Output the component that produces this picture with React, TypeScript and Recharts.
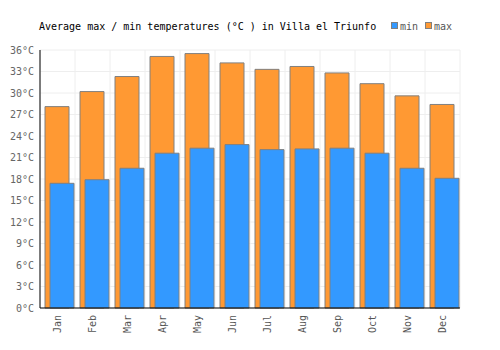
import React from 'react';
import { BarChart, Bar, XAxis, YAxis, CartesianGrid, Rectangle } from 'recharts';

const months = ['Jan', 'Feb', 'Mar', 'Apr', 'May', 'Jun', 'Jul', 'Aug', 'Sep', 'Oct', 'Nov', 'Dec'];
const minTemps = [17.4, 17.9, 19.5, 21.6, 22.3, 22.8, 22.1, 22.2, 22.3, 21.6, 19.5, 18.1];
const maxTemps = [28.1, 30.2, 32.3, 35.1, 35.5, 34.2, 33.3, 33.7, 32.8, 31.3, 29.6, 28.4];
const yTicks = [0, 3, 6, 9, 12, 15, 18, 21, 24, 27, 30, 33, 36];

const FONT = '"DejaVu Sans Mono", monospace';
const BLUE = '#3399ff';
const ORANGE = '#ff9933';
const EDGE = '#808080';

const data = months.map((m, i) => ({ month: m, min: minTemps[i], max: maxTemps[i] }));

// bars sit a little right of band centre in the original
const shifted = (props: any) => <Rectangle {...props} x={props.x + 2} />;

const MonthTick = (props: any) => {
  const { x, y, payload } = props;
  return (
    <text
      x={x}
      y={y}
      dy="0.35em"
      transform={`rotate(-90, ${x}, ${y})`}
      textAnchor="end"
      fontFamily={FONT}
      fontSize={10}
      fill="#555"
    >
      {payload.value}
    </text>
  );
};

export default function App() {
  return (
    <div style={{ position: 'absolute', left: 0, top: 0, width: 500, height: 350, background: '#fff' }}>
      <BarChart
        width={500}
        height={350}
        data={data}
        margin={{ top: 50, right: 40, bottom: 0, left: 0 }}
        barSize={24}
        barGap={-19}
        barCategoryGap={0}
      >
        <CartesianGrid
          stroke="#eeeeee"
          verticalCoordinatesGenerator={({ offset }: any) =>
            Array.from({ length: months.length + 1 }, (_, i) => offset.left + (i * offset.width) / months.length)
          }
        />
        <XAxis
          dataKey="month"
          height={42}
          axisLine={{ stroke: '#000' }}
          tickLine={false}
          tickSize={5}
          tickMargin={2}
          interval={0}
          tick={<MonthTick />}
        />
        <YAxis
          width={40}
          domain={[0, 36]}
          ticks={yTicks}
          interval={0}
          axisLine={{ stroke: '#000' }}
          tickLine={false}
          tickSize={4}
          tickMargin={2}
          tickFormatter={(v: number) => `${v}°C`}
          tick={{ fontFamily: FONT, fontSize: 10, fill: '#666' }}
        />
        <Bar dataKey="max" fill={ORANGE} stroke={EDGE} strokeWidth={1} shape={shifted} isAnimationActive={false} />
        <Bar dataKey="min" fill={BLUE} stroke={EDGE} strokeWidth={1} shape={shifted} isAnimationActive={false} />
      </BarChart>
      <svg width={500} height={40} style={{ position: 'absolute', left: 0, top: 0 }}>
        <text x={39} y={29.5} fontFamily={FONT} fontSize={10} fill="#000">
          Average max / min temperatures (°C ) in Villa el Triunfo
        </text>
        <rect x={391.5} y={22.5} width={6} height={6} fill={BLUE} stroke={EDGE} />
        <text x={400} y={29.5} fontFamily={FONT} fontSize={10} fill="#555">min</text>
        <rect x={425.5} y={22.5} width={6} height={6} fill={ORANGE} stroke={EDGE} />
        <text x={434} y={29.5} fontFamily={FONT} fontSize={10} fill="#555">max</text>
      </svg>
    </div>
  );
}
